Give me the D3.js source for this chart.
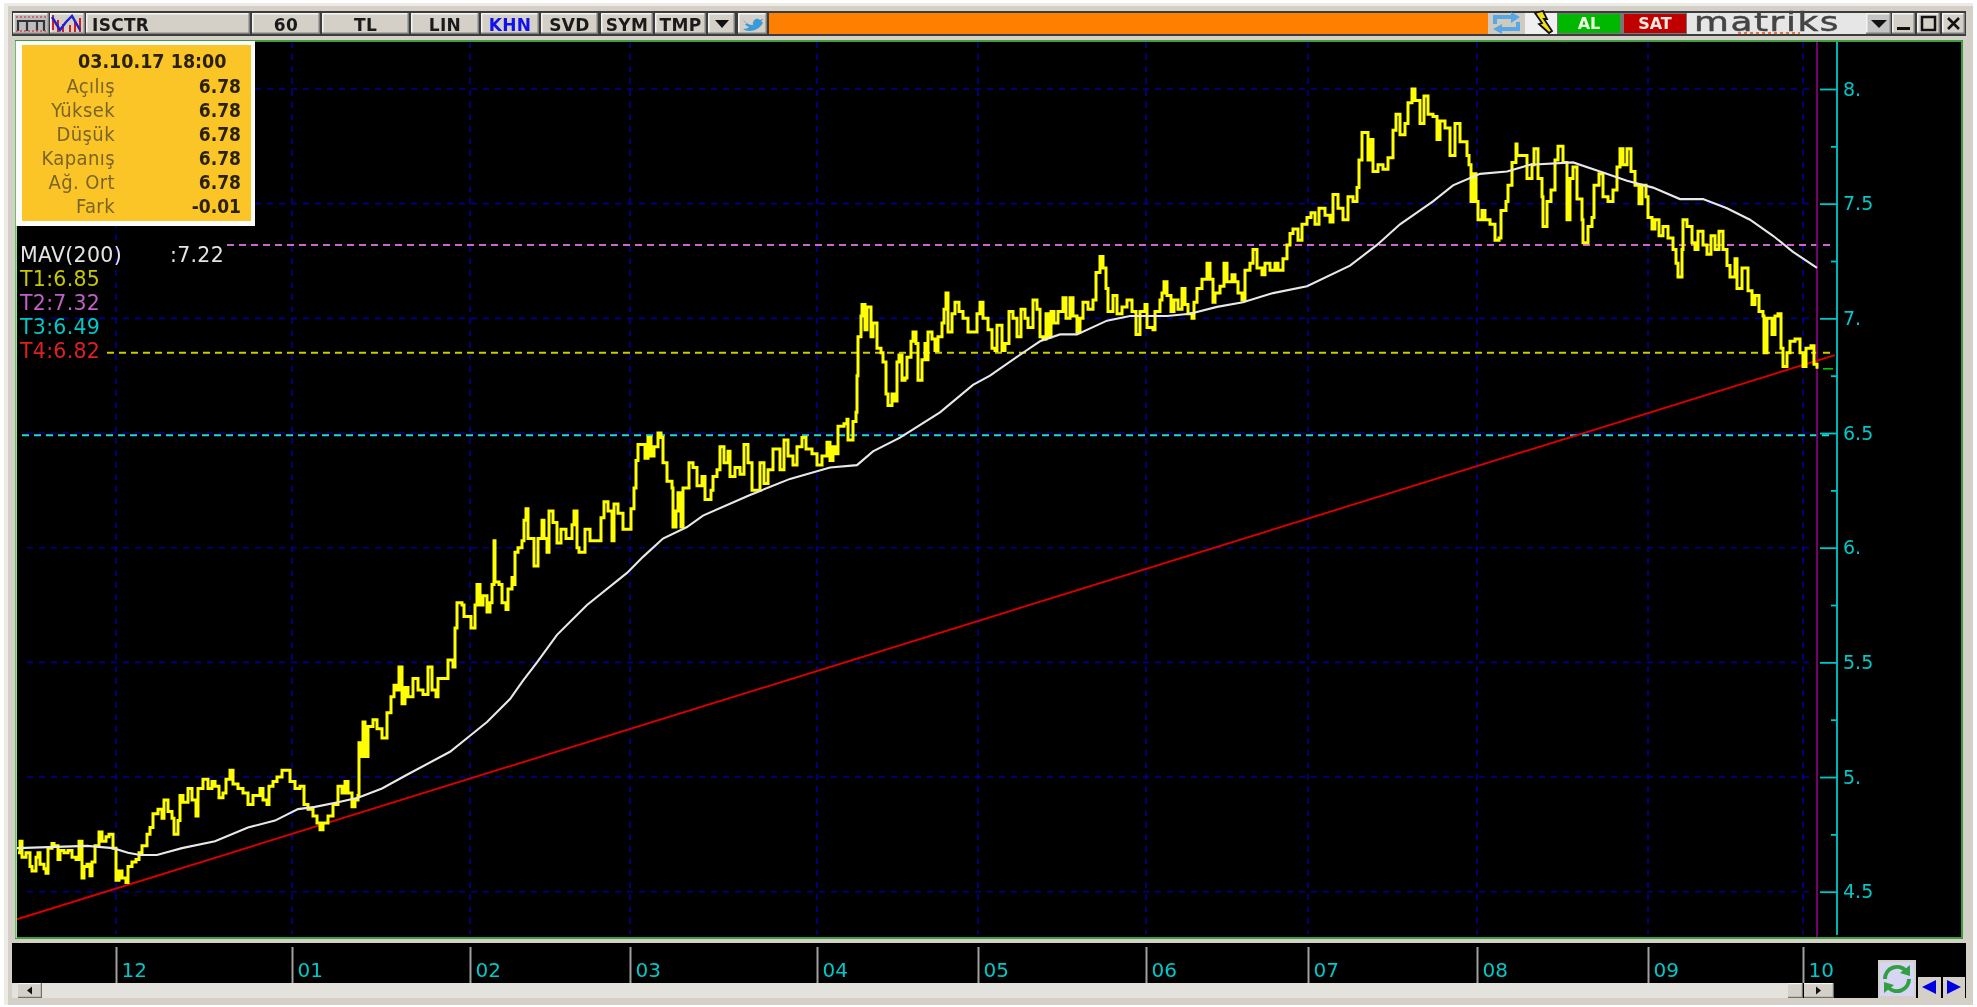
<!DOCTYPE html>
<html>
<head>
<meta charset="utf-8">
<script src="https://cdnjs.cloudflare.com/ajax/libs/d3/7.8.5/d3.min.js"></script>
<style>
html,body{margin:0;padding:0;background:#fff;overflow:hidden}
svg{display:block;font-family:"DejaVu Sans",sans-serif;filter:blur(.45px)}
</style>
</head>
<body>
<script>
// ---------- chart data ----------
const hourlyCloses = [
[1,4.67],[3,4.72],[5,4.65],[9,4.67],[13,4.61],[15,4.59],[19,4.65],[21,4.67],[23,4.62],[27,4.60],[29,4.58],[31,4.69],[35,4.71],[37,4.70],[41,4.64],[43,4.68],[47,4.67],[51,4.68],[55,4.65],[59,4.64],[62,4.72],[65,4.56],[67,4.61],[70,4.62],[73,4.57],[75,4.63],[78,4.70],[82,4.76],[85,4.72],[89,4.74],[92,4.75],[96,4.69],[99,4.55],[102,4.59],[105,4.56],[109,4.54],[111,4.61],[115,4.63],[119,4.64],[122,4.67],[125,4.70],[130,4.75],[133,4.78],[136,4.84],[141,4.86],[145,4.82],[147,4.90],[151,4.85],[155,4.82],[157,4.75],[161,4.81],[163,4.92],[166,4.89],[171,4.95],[175,4.90],[179,4.83],[181,4.95],[186,4.99],[191,4.95],[195,4.98],[198,4.96],[202,4.91],[206,4.93],[209,4.99],[213,5.03],[216,4.97],[221,4.95],[226,4.93],[231,4.88],[236,4.92],[243,4.95],[246,4.90],[250,4.88],[252,4.96],[256,4.98],[260,5.00],[265,5.03],[270,5.03],[273,4.98],[278,4.95],[283,4.96],[287,4.88],[291,4.86],[296,4.83],[300,4.80],[303,4.77],[306,4.80],[311,4.83],[316,4.88],[321,4.96],[325,4.93],[328,4.98],[331,4.93],[335,4.87],[338,4.90],[341,4.92],
[342,5.15],[344,5.09],[346,5.24],[348,5.09],[351,5.22],[356,5.25],[360,5.21],[365,5.17],[368,5.17],[370,5.28],[374,5.35],[377,5.40],[380,5.38],[382,5.48],[385,5.32],[388,5.39],[391,5.35],[396,5.43],[401,5.38],[406,5.36],[411,5.48],[415,5.38],[419,5.35],[421,5.43],[426,5.43],[431,5.51],[436,5.48],[438,5.65],[440,5.76],[445,5.75],[447,5.70],[451,5.70],[454,5.65],[458,5.75],[460,5.84],[463,5.75],[466,5.79],[470,5.72],[473,5.76],[475,5.84],[477,6.03],[478,5.85],[482,5.84],[485,5.76],[489,5.73],[491,5.82],[495,5.87],[497,5.84],[498,5.98],[501,6.00],[505,6.03],[507,6.12],[509,6.17],[511,6.04],[515,6.04],[517,5.92],[521,6.04],[525,6.12],[527,6.04],[530,5.98],[532,6.16],[536,6.11],[540,6.02],[544,6.08],[549,6.04],[555,6.10],[557,6.16],[560,6.00],[562,5.98],[568,6.08],[573,6.03],[581,6.03],[584,6.13],[587,6.20],[591,6.16],[595,6.03],[597,6.19],[601,6.15],[606,6.08],[611,6.08],[614,6.17],[617,6.26],[619,6.38],[621,6.45],
[625,6.45],[628,6.39],[631,6.48],[634,6.40],[637,6.44],[641,6.50],[644,6.48],[646,6.37],[650,6.29],[655,6.26],[656,6.09],[659,6.16],[661,6.24],[664,6.09],[666,6.26],[670,6.26],[672,6.37],[676,6.35],[680,6.27],[685,6.31],[688,6.21],[694,6.25],[696,6.31],[700,6.34],[703,6.44],[707,6.37],[711,6.42],[713,6.31],[718,6.35],[723,6.32],[727,6.45],[731,6.37],[735,6.25],[738,6.25],[743,6.37],[747,6.28],[751,6.34],[756,6.43],[760,6.43],[763,6.34],[767,6.47],[771,6.40],[776,6.36],[780,6.44],[785,6.48],[789,6.43],[795,6.41],[800,6.36],[805,6.40],[810,6.46],[813,6.38],[816,6.44],[819,6.41],[821,6.53],[827,6.54],[830,6.56],[831,6.47],[836,6.55],[839,6.59],[840,6.75],[841,6.92],[844,7.01],[845,7.06],[848,6.95],[850,7.05],[854,6.92],[856,6.98],[860,6.87],[864,6.85],[866,6.81],[869,6.67],[871,6.62],[875,6.67],[878,6.64],[880,6.81],[882,6.84],[885,6.73],[888,6.74],[890,6.83],[894,6.90],[896,6.94],[899,6.89],[901,6.73],[905,6.82],[908,6.89],[910,6.82],[911,6.94],[915,6.91],[918,6.86],[921,6.92],[925,6.98],[927,7.04],[929,7.11],[931,6.94],[935,7.02],[938,7.07],[942,7.03],[946,7.00],[951,6.94],[956,6.94],[960,7.02],[963,7.07],[966,7.00],[971,6.95],[975,6.87],[978,6.86],[980,6.97],[985,6.86],[988,6.89],[992,7.03],[996,7.00],[1000,6.92],[1004,7.04],[1008,7.00],[1011,6.96],[1016,7.08],
[1020,7.04],[1023,6.92],[1026,6.91],[1029,7.02],[1031,6.92],[1034,7.03],[1037,6.98],[1041,7.03],[1046,7.09],[1049,7.00],[1053,7.09],[1056,7.01],[1060,6.94],[1063,7.00],[1066,7.07],[1071,7.04],[1076,7.08],[1079,7.20],[1083,7.27],[1086,7.22],[1089,7.13],[1091,7.03],[1096,7.10],[1100,7.02],[1105,7.05],[1110,7.08],[1115,7.03],[1119,6.93],[1123,7.03],[1128,7.06],[1130,6.96],[1136,6.95],[1138,7.03],[1143,7.08],[1145,7.11],[1147,7.16],[1150,7.10],[1154,7.03],[1157,7.08],[1161,7.04],[1165,7.13],[1168,7.06],[1171,7.02],[1175,7.00],[1177,7.07],[1180,7.13],[1185,7.17],[1190,7.24],[1193,7.17],[1196,7.07],[1198,7.11],[1203,7.14],[1207,7.24],[1210,7.16],[1215,7.19],[1218,7.16],[1221,7.11],[1225,7.08],[1228,7.21],[1233,7.24],[1236,7.30],[1240,7.22],[1245,7.19],[1248,7.24],[1253,7.21],[1258,7.24],[1261,7.21],[1266,7.26],[1270,7.32],[1273,7.37],
[1276,7.39],[1281,7.34],[1285,7.41],[1290,7.44],[1294,7.46],[1298,7.41],[1302,7.48],[1308,7.45],[1313,7.42],[1316,7.54],[1321,7.48],[1326,7.43],[1331,7.53],[1336,7.51],[1340,7.57],[1342,7.69],[1345,7.81],[1348,7.81],[1351,7.69],[1354,7.78],[1356,7.64],[1361,7.67],[1366,7.65],[1371,7.70],[1376,7.82],[1379,7.89],[1383,7.80],[1388,7.85],[1391,7.94],[1395,8.00],[1398,7.95],[1403,7.85],[1407,7.97],[1411,7.89],[1416,7.88],[1420,7.78],[1423,7.86],[1428,7.83],[1433,7.71],[1438,7.85],[1443,7.77],[1450,7.71],[1452,7.67],[1454,7.51],[1456,7.63],[1459,7.51],[1461,7.43],[1465,7.47],[1468,7.43],[1473,7.41],[1478,7.34],[1482,7.35],[1484,7.47],[1489,7.51],[1491,7.58],[1495,7.68],[1499,7.76],[1500,7.71],[1506,7.71],[1510,7.61],[1515,7.67],[1517,7.74],[1521,7.61],[1525,7.53],[1526,7.40],[1530,7.51],[1534,7.56],[1538,7.69],[1541,7.75],[1546,7.68],[1550,7.43],[1553,7.61],[1556,7.66],[1560,7.52],[1565,7.43],[1566,7.33],[1571,7.40],[1575,7.44],[1577,7.58],[1582,7.63],[1586,7.53],[1591,7.51],[1596,7.56],[1600,7.66],[1603,7.74],[1606,7.67],[1610,7.74],[1614,7.64],[1618,7.58],[1622,7.50],[1625,7.58],[1629,7.53],[1631,7.44],[1635,7.39],[1638,7.43],[1642,7.36],[1646,7.40],[1651,7.35],[1656,7.30],[1659,7.24],[1661,7.18],[1665,7.30],[1666,7.43],[1670,7.40],[1675,7.33],[1678,7.30],[1681,7.38],[1686,7.32],[1690,7.28],[1694,7.36],[1698,7.30],[1702,7.38],[1706,7.30],[1710,7.23],[1713,7.18],[1718,7.26],[1720,7.13],[1725,7.22],[1729,7.22],[1731,7.12],[1735,7.06],[1738,7.10],[1742,7.03],[1746,7.01],[1747,6.85],[1750,7.00],[1755,6.93],[1758,7.01],[1761,7.02],[1764,6.87],[1766,6.79],[1770,6.85],[1773,6.90],[1778,6.91],[1783,6.85],[1786,6.79],[1789,6.87],[1794,6.88],[1797,6.80],[1800,6.78]
];
const movingAverage200 = [
[0,4.69],[70,4.70],[96,4.69],[111,4.67],[123,4.66],[140,4.66],[148,4.67],[165,4.69],[198,4.72],[231,4.78],[258,4.81],[281,4.86],[298,4.87],[321,4.89],[341,4.91],[365,4.95],[390,5.01],[433,5.11],[453,5.18],[470,5.24],[493,5.34],[506,5.42],[520,5.50],[540,5.62],[570,5.75],[610,5.89],[626,5.96],[646,6.04],[670,6.09],[686,6.14],[733,6.23],[773,6.30],[813,6.35],[840,6.36],[856,6.42],[883,6.48],[923,6.59],[956,6.71],[973,6.75],[1006,6.85],[1023,6.90],[1043,6.93],[1060,6.93],[1090,6.99],[1113,7.01],[1150,7.01],[1173,7.02],[1200,7.05],[1226,7.07],[1256,7.11],[1290,7.14],[1333,7.23],[1360,7.32],[1383,7.41],[1416,7.51],[1436,7.58],[1463,7.63],[1490,7.64],[1513,7.67],[1556,7.68],[1583,7.64],[1610,7.60],[1636,7.57],[1663,7.52],[1686,7.52],[1710,7.48],[1733,7.43],[1756,7.36],[1776,7.29],[1800,7.22]
];
const trendBars = [0, 1818];
const trendValues = [4.38, 6.84];
const levelNames = ["T1","T2","T3","T4"];
const levelValues = [6.85, 7.32, 6.49, 6.82];
const monthBars = [99,275,453,613,800,961,1129,1291,1460,1631,1786];
const monthLabels = ["12","01","02","03","04","05","06","07","08","09","10"];
const yTickValues = [8,7.5,7,6.5,6,5.5,5,4.5];
const yTickLabels = ["8.","7.5","7.","6.5","6.","5.5","5.","4.5"];
const yMinorValues = [7.75,7.25,6.75,6.25,5.75,5.25,4.75];
const infoLabels = ["Açılış","Yüksek","Düşük","Kapanış","Ağ. Ort","Fark"];
const infoValues = ["6.78","6.78","6.78","6.78","6.78","-0.01"];
const infoDate = "03.10.17 18:00";
const mavLabel = "MAV(200)";
const mavValue = ":7.22";

// ---------- scales ----------
const W = 1977, H = 1007;
const x = d3.scaleLinear().domain([0,1800]).range([17,1817]);
const y = d3.scaleLinear().domain([4.5,8]).range([891.7,89]);

const svg = d3.select("body").append("svg").attr("width",W).attr("height",H);
const rect = (g,a,b,w,h,f,extra={}) => { const r=g.append("rect").attr("x",a).attr("y",b).attr("width",w).attr("height",h).attr("fill",f); for(const k in extra) r.attr(k,extra[k]); return r; };
const text = (g,a,b,s,size,f,anchor="start",weight="normal",extra={}) => { const t=g.append("text").attr("x",a).attr("y",b).attr("font-size",size).attr("fill",f).attr("text-anchor",anchor).attr("font-weight",weight).attr("dominant-baseline","central").text(s); for(const k in extra) t.style(k,extra[k]); return t; };

// ---------- window chrome ----------
const chrome = svg.append("g");
rect(chrome,4,3,1969,1002,"#d4d0c8");
rect(chrome,4,3,1969,3,"#ecebe6");
rect(chrome,4,3,4,1002,"#ecebe6");
rect(chrome,12,11,1954,25,"#3c3c3c");

// toolbar
const TF = {"font-family":"DejaVu Sans","letter-spacing":"0.3px"};
const buttons = [
 {a:50,b:85},{a:86,b:250,s:"ISCTR",l:92},{a:252,b:320,s:"60"},{a:322,b:409,s:"TL"},{a:411,b:479,s:"LIN"},
 {a:481,b:539,s:"KHN",c:"#1010f0"},{a:541,b:598,s:"SVD"},{a:601,b:653,s:"SYM"},{a:655,b:706,s:"TMP"},
 {a:708,b:735},{a:738,b:767}
];
function btn(a,b,fill="#d4d0c8"){
  rect(chrome,a,13,b-a,21,fill);
  rect(chrome,a,13,b-a,1.5,"#f4f4f0");
  rect(chrome,a,13,1.5,21,"#f4f4f0");
  rect(chrome,a,32.5,b-a,1.5,"#808080");
  rect(chrome,b-1.5,13,1.5,21,"#808080");
}
btn(13,49);
buttons.forEach(d=>{
  btn(d.a,d.b);
  if(d.s){
    if(d.l) text(chrome,d.l,24.5,d.s,17,d.c||"#1a1a1a","start","600",TF);
    else text(chrome,(d.a+d.b)/2,24.5,d.s,17,d.c||"#1a1a1a","middle","600",TF);
  }
});
// icon 1
rect(chrome,15,15,32,17,"#bdbdbd");
chrome.append("path").attr("d","M18 31V21H27V31M27 21H37V31M37 21H44V31").attr("fill","none").attr("stroke","#333").attr("stroke-width",2.2);
chrome.append("path").attr("d","M16 17H46M16 31H46").attr("stroke","#d05050").attr("stroke-width",1.5).attr("stroke-dasharray","2 2");
// icon 2
chrome.append("path").attr("d","M53 15V30M58 20V32M63 24V32M70 25V32M75 22V32M80 18V32").attr("stroke","#d02020").attr("stroke-width",2);
chrome.append("path").attr("d","M52 17L60 30L66 22L72 16L80 30").attr("fill","none").attr("stroke","#2020d0").attr("stroke-width",2.4);
// dropdown
chrome.append("path").attr("d","M715 20H729L722 28Z").attr("fill","#111");
// twitter bird
chrome.append("path").attr("d","M743 20C747 24 750 25 753 25C752 20 757 17 760 20L763 19L761 22L763 22C760 31 748 33 743 29C746 29 748 28 749 27C746 26 745 24 745 24L747 24C744 22 743 20 743 20Z").attr("fill","#3a9ad9");
// orange bar
rect(chrome,769,13,719,21,"#ff8000");
// refresh
rect(chrome,1488,13,37,21,"#cfcac0");
chrome.append("path").attr("d","M1495 24V17H1516").attr("fill","none").attr("stroke","#58a8e8").attr("stroke-width",4);
chrome.append("path").attr("d","M1518 22V29H1497").attr("fill","none").attr("stroke","#58a8e8").attr("stroke-width",4);
chrome.append("path").attr("d","M1511 12L1520 17L1511 23ZM1502 24L1493 29L1502 34Z").attr("fill","#58a8e8");
// bolt
rect(chrome,1525,13,32,21,"#f0f0f0");
chrome.append("path").attr("d","M1535 13L1543 11L1547 19L1544 19L1552 31L1549 33L1539 24L1542 23Z").attr("fill","#f0e020").attr("stroke","#111").attr("stroke-width",1.8);
// AL / SAT
rect(chrome,1557,13,65,21,"#777");
rect(chrome,1558,14,62,19,"#00b800");
text(chrome,1589,23.5,"AL",16,"#f0ffe0","middle","bold");
rect(chrome,1622,13,65,21,"#777");
rect(chrome,1624,14,62,19,"#c00000");
text(chrome,1655,23.5,"SAT",16,"#ffe8e0","middle","bold");
// logo
rect(chrome,1687,13,179,21,"#e6e6e6");
text(chrome,1694,21.5,"matriks",27,"#444","start","normal",{"letter-spacing":"1.2px","stroke":"#444","stroke-width":"0.5px"}).attr("textLength",146).attr("lengthAdjust","spacingAndGlyphs");
chrome.append("line").attr("x1",1738).attr("x2",1800).attr("y1",33).attr("y2",33).attr("stroke","#e05010").attr("stroke-width",1.6).attr("stroke-dasharray","3 3");
// window buttons
btn(1866,1891,"#c4c4c4"); chrome.append("path").attr("d","M1871 20H1887L1879 28Z").attr("fill","#111");
btn(1892,1915); rect(chrome,1897,27,13,3,"#111");
btn(1917,1940); rect(chrome,1922,17,13,13,"none",{stroke:"#111","stroke-width":2.5});
btn(1942,1965); chrome.append("path").attr("d","M1948 18L1959 29M1959 18L1948 29").attr("stroke","#111").attr("stroke-width",2.6);

// ---------- chart panel ----------
rect(chrome,15,40,1948,899,"#000");
const plot = svg.append("g");

// grid
const GRID = "#000090";
plot.append("g").selectAll("line").data(yTickValues).join("line")
  .attr("x1",27).attr("x2",1810).attr("y1",d=>y(d)).attr("y2",d=>y(d))
  .attr("stroke",GRID).attr("stroke-width",1.6).attr("stroke-dasharray","6 6");
plot.append("g").selectAll("line").data(monthBars).join("line")
  .attr("x1",d=>x(d)).attr("x2",d=>x(d)).attr("y1",42).attr("y2",935)
  .attr("stroke",GRID).attr("stroke-width",1.6).attr("stroke-dasharray","6 6");

// horizontal level lines
const levelStyle = [
 {c:"#cccc00",from:107},{c:"#cc66cc",from:227},{c:"#20d8d8",from:22}
];
plot.append("g").selectAll("line").data(levelValues.slice(0,3)).join("line")
  .attr("x1",(d,i)=>levelStyle[i].from).attr("x2",1830).attr("y1",d=>y(d)).attr("y2",d=>y(d))
  .attr("stroke",(d,i)=>levelStyle[i].c).attr("stroke-width",2).attr("stroke-dasharray","7 5");

// vertical cursor & axis
plot.append("line").attr("x1",x(1800)).attr("x2",x(1800)).attr("y1",41).attr("y2",938).attr("stroke","#800080").attr("stroke-width",1.8);

// trend line
plot.append("path").datum(trendBars.map((b,i)=>[b,trendValues[i]]))
  .attr("d",d3.line().x(d=>x(d[0])).y(d=>y(d[1])))
  .attr("fill","none").attr("stroke","#d80000").attr("stroke-width",1.9);

// price
const line = d3.line().x(d=>x(d[0])).y(d=>y(d[1]));
plot.append("path").datum(hourlyCloses).attr("d",line.curve(d3.curveStepAfter))
  .attr("fill","none").attr("stroke","#ffff00").attr("stroke-width",3).attr("stroke-linejoin","miter");
line.curve(d3.curveLinear);
// moving average
plot.append("path").datum(movingAverage200).attr("d",line)
  .attr("fill","none").attr("stroke","#e8e8e8").attr("stroke-width",2.1);
// last price marker
plot.append("line").attr("x1",1823).attr("x2",1833).attr("y1",y(6.78)).attr("y2",y(6.78)).attr("stroke","#00c800").attr("stroke-width",1.6);

// y axis
const CY = "#00c8c8";
const yAxis = d3.axisRight(y).tickValues(yTickValues).tickSize(-17).tickPadding(6)
  .tickFormat((d,i)=>yTickLabels[i]);
const yg = plot.append("g").attr("transform","translate(1837,0)").call(yAxis);
yg.select(".domain").remove();
yg.selectAll("line").attr("stroke",CY).attr("stroke-width",1.8);
yg.selectAll("text").attr("fill",CY).attr("font-size",19).attr("font-family","DejaVu Sans");
const yMinor = d3.axisRight(y).tickValues(yMinorValues).tickSize(-6).tickFormat("");
const ym = plot.append("g").attr("transform","translate(1837,0)").call(yMinor);
ym.select(".domain").remove();
ym.selectAll("line").attr("stroke",CY).attr("stroke-width",1.8);
plot.append("line").attr("x1",1837).attr("x2",1837).attr("y1",41).attr("y2",935).attr("stroke",CY).attr("stroke-width",1.8);

// green frame
rect(svg,16,41,1946,897,"none",{stroke:"#45b045","stroke-width":1.8});
rect(svg,15.5,41,1.5,897,"#8ee88e");

// info box
const box = svg.append("g");
const CONDENSED = "DejaVu Sans Condensed, DejaVu Sans";
rect(box,16,41,239,185,"#fcfcfc");
rect(box,22,45,229,176,"#fbc427");
text(box,78,61,infoDate,19.5,"#2a2208","start","bold",{"font-family":CONDENSED});
box.selectAll("text.l").data(infoLabels).join("text").attr("class","l")
  .attr("x",115).attr("y",(d,i)=>86+i*24).attr("text-anchor","end").attr("dominant-baseline","central")
  .attr("font-size",20).attr("fill","#7a6428").style("font-family",CONDENSED).style("letter-spacing","0.4px").text(d=>d);
box.selectAll("text.v").data(infoValues).join("text").attr("class","v")
  .attr("x",241).attr("y",(d,i)=>86+i*24).attr("text-anchor","end").attr("dominant-baseline","central")
  .attr("font-size",19).attr("font-weight","bold").attr("fill","#2a2208").style("font-family",CONDENSED).text(d=>d);

// legend
const leg = svg.append("g");
const LS = {"letter-spacing":"0.3px"};
text(leg,20,255,mavLabel,20.5,"#e4e4e4","start","normal",LS);
text(leg,170,255,mavValue,20.5,"#e4e4e4","start","normal",LS);
const legendColors = ["#c8c800","#c060c8","#00c8c8","#e02020"];
leg.selectAll("text.t").data(levelNames).join("text").attr("class","t")
  .attr("x",20).attr("y",(d,i)=>279+i*24).attr("dominant-baseline","central")
  .attr("font-size",20.5).style("letter-spacing","0.3px").attr("fill",(d,i)=>legendColors[i])
  .text((d,i)=>d+":"+levelValues[i].toFixed(2));

// ---------- bottom strip ----------
const bottom = svg.append("g");
rect(bottom,12,943,1954,55,"#000");
const xAxis = d3.axisBottom(x).tickValues(monthBars).tickSize(36).tickPadding(0)
  .tickFormat((d,i)=>monthLabels[i]);
const xg = bottom.append("g").attr("transform","translate(0,947)").call(xAxis);
xg.select(".domain").remove();
xg.selectAll("line").attr("stroke","#a0a0a0").attr("stroke-width",2);
xg.selectAll("text").attr("fill",CY).attr("font-size",20).attr("font-family","DejaVu Sans")
  .attr("text-anchor","start").attr("x",5).attr("y",23).attr("dominant-baseline","central").attr("dy",null);

// scrollbar
rect(bottom,12,983,1776,15,"#e4e2dc");
btn2(18,42,983,15);
chromeTri(30,990.5,-1);
btn2(1788,1803,983,15);
btn2(1804,1834,983,15);
chromeTri(1818,990.5,1);
function btn2(a,b,t,h){
  rect(bottom,a,t,b-a,h,"#d4d0c8");
  rect(bottom,a,t,b-a,1.2,"#f4f4f0");
  rect(bottom,a,t+h-1.2,b-a,1.2,"#707070");
  rect(bottom,b-1.2,t,1.2,h,"#707070");
}
function chromeTri(cx,cy,dir){
  bottom.append("path").attr("d",`M${cx+dir*3} ${cy}L${cx-dir*2} ${cy-4}V${cy+4}Z`).attr("fill","#111");
}
// refresh button
rect(bottom,1878,960,38,38,"#d4d0c8");
rect(bottom,1880,962,34,34,"#d6d6f4");
bottom.append("path").attr("d","M1885 979A12 12 0 0 1 1906 971M1909 979A12 12 0 0 1 1888 987").attr("fill","none").attr("stroke","#30a040").attr("stroke-width",4);
bottom.append("path").attr("d","M1900 973L1910 976V965ZM1894 985L1884 982V993Z").attr("fill","#30a040");
// arrow buttons
rect(bottom,1918,977,23,21,"#d4d0c8");
rect(bottom,1943,977,22,21,"#d4d0c8");
bottom.append("path").attr("d","M1922 987L1936 980V994Z").attr("fill","#0000e0");
bottom.append("path").attr("d","M1961 987L1947 980V994Z").attr("fill","#0000e0");
</script>
</body>
</html>
